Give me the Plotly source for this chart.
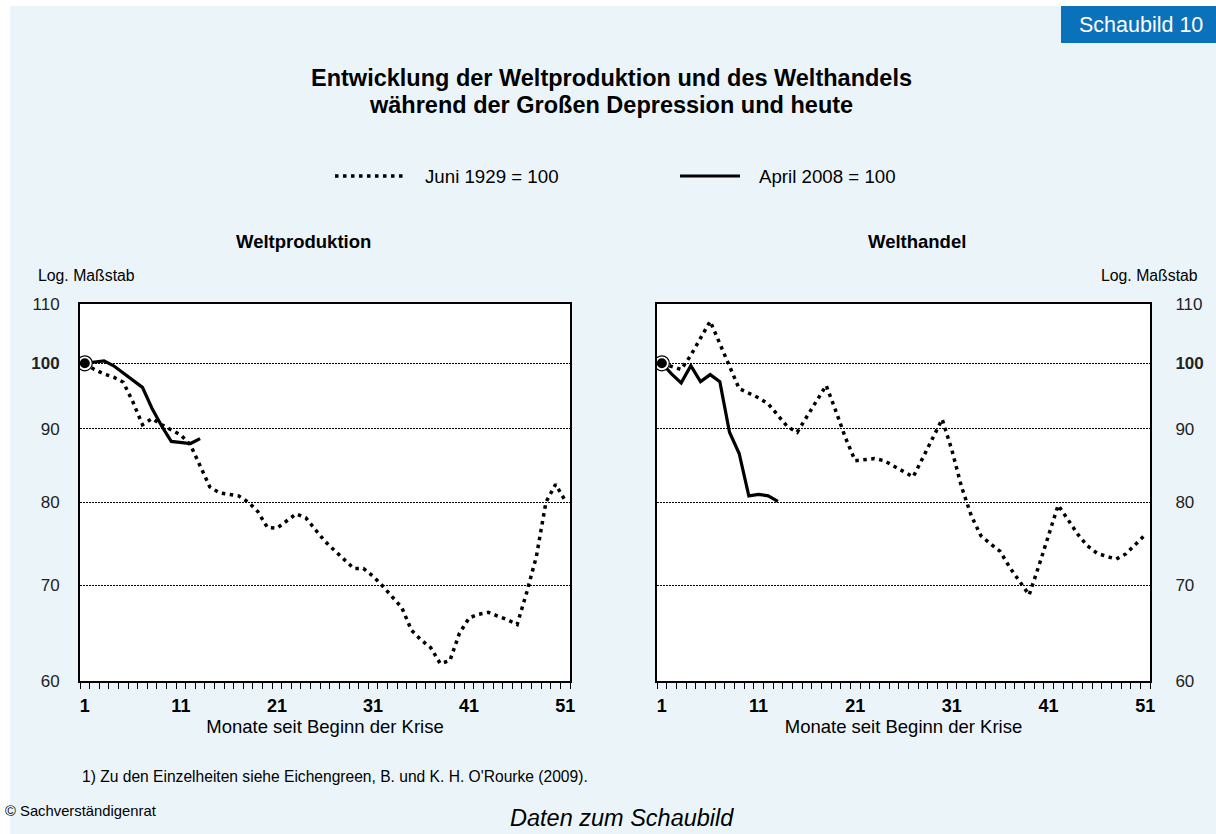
import math
import plotly.graph_objects as go

# ---------------- data ----------------
months = list(range(1, 52))
months_2008 = list(range(1, 14))

prod_1929 = [100, 99.0, 98.3, 97.8, 97.0, 94.0, 90.6, 91.5, 90.6, 89.8,
             89.1, 87.7, 84.8, 82.0, 81.2, 81.0, 80.8, 80.0, 78.8, 76.8,
             76.7, 77.6, 78.5, 78.0, 76.6, 75.1, 74.0, 73.0, 71.9, 71.9,
             71.0, 69.9, 68.7, 67.5, 65.1, 64.1, 63.3, 61.7, 62.0, 64.8,
             66.4, 66.8, 67.0, 66.6, 66.2, 65.7, 69.2, 73.3, 80.0, 82.3, 80.2]
prod_2008 = [100, 100.2, 100.4, 99.6, 98.5, 97.3, 96.2, 93.0, 90.4, 88.2,
             88.1, 87.9, 88.6]

trade_1929 = [100, 99.5, 99.0, 101.3, 104.0, 107.0, 103.2, 99.5, 96.0, 95.3,
              94.6, 93.7, 92.0, 90.3, 89.5, 91.8, 94.2, 96.5, 92.6, 88.7,
              85.5, 85.6, 85.8, 85.5, 84.8, 84.0, 83.3, 85.9, 88.6, 91.4,
              87.0, 82.0, 78.3, 75.8, 74.8, 73.9, 72.0, 70.4, 68.9, 72.2,
              75.9, 79.6, 77.8, 76.0, 74.6, 73.7, 73.3, 73.0, 73.6, 74.7, 75.9]
trade_2008 = [100, 98.3, 96.9, 99.6, 97.1, 98.2, 97.1, 89.5, 86.5, 80.8,
              81.0, 80.8, 80.1]

x_tickvals = [1, 11, 21, 31, 41, 51]
y_tickvals = [60, 70, 80, 90, 100, 110]
y_ticktext = ["60", "70", "80", "90", "<b>100</b>", "110"]
base_value = 100

series_1929_name = "Juni 1929 = 100"
series_2008_name = "April 2008 = 100"

# ---------------- layout helpers ----------------
W, H = 1216, 834
FONT = "Liberation Sans, Arial, sans-serif"
BG = "#EBF5F9"
BLUE = "#0A72BA"
DOT = "3.5px,4.5px"


def px(x):
    return x / W


def py(y):
    return 1 - y / H


fig = go.Figure()

panels = [
    ("x", "y", prod_1929, prod_2008),
    ("x2", "y2", trade_1929, trade_2008),
]
for xa, ya, s29, s08 in panels:
    fig.add_trace(go.Scatter(x=months, y=s29, mode="lines", xaxis=xa, yaxis=ya,
                             line=dict(color="black", width=3.5, dash=DOT),
                             name=series_1929_name, showlegend=False, hoverinfo="skip"))
    fig.add_trace(go.Scatter(x=months_2008, y=s08, mode="lines", xaxis=xa, yaxis=ya,
                             line=dict(color="black", width=3.2),
                             name=series_2008_name, showlegend=False, hoverinfo="skip"))
    # start-point bullseye marker
    fig.add_trace(go.Scatter(x=[months[0]], y=[s29[0]], mode="markers", xaxis=xa, yaxis=ya,
                             marker=dict(size=15, color="white",
                                         line=dict(color="black", width=1.2)),
                             showlegend=False, hoverinfo="skip"))
    fig.add_trace(go.Scatter(x=[months[0]], y=[s29[0]], mode="markers", xaxis=xa, yaxis=ya,
                             marker=dict(size=10, color="black"),
                             showlegend=False, hoverinfo="skip"))

ydom = [py(681), py(304)]
yrange = [math.log10(60), math.log10(110)]

common_x = dict(
    range=[0.5, 51.5], tickmode="array", tickvals=x_tickvals,
    ticks="", showgrid=False, zeroline=False, automargin=False,
    showline=True, mirror=True, linecolor="black", linewidth=2,
    tickfont=dict(family=FONT, size=18, color="black", weight="bold"),
    ticklabelstandoff=7,
    minor=dict(ticks="outside", ticklen=6, tickwidth=1, tickcolor="black",
               tick0=0.5, dtick=1, showgrid=False),
    title=dict(text="Monate seit Beginn der Krise",
               font=dict(family=FONT, size=18.5, color="black"), standoff=2),
    fixedrange=True,
)
common_y = dict(
    type="log", range=yrange, tickmode="array", tickvals=y_tickvals,
    ticktext=y_ticktext, ticks="", showgrid=True, gridcolor="black",
    gridwidth=1.3, griddash="2px,1px", zeroline=False, automargin=False,
    showline=True, mirror=True, linecolor="black", linewidth=2,
    tickfont=dict(family=FONT, size=17, color="#222222"),
    domain=ydom, fixedrange=True,
)

fig.update_layout(
    width=W, height=H,
    margin=dict(l=0, r=0, t=0, b=0, pad=0),
    paper_bgcolor=BG, plot_bgcolor="white",
    font=dict(family=FONT, color="black"),
    showlegend=False,
    xaxis=dict(common_x, domain=[px(80), px(570)], anchor="y"),
    yaxis=dict(common_y, anchor="x", side="left", ticklabelstandoff=15),
    xaxis2=dict(common_x, domain=[px(657), px(1150)], anchor="y2"),
    yaxis2=dict(common_y, anchor="x2", side="right", ticklabelstandoff=20),
)

shapes = [
    # white outer margins
    dict(type="rect", xref="paper", yref="paper", x0=0, x1=px(10), y0=0, y1=1,
         fillcolor="white", line=dict(width=0), layer="below"),
    dict(type="rect", xref="paper", yref="paper", x0=0, x1=1, y0=py(6), y1=1,
         fillcolor="white", line=dict(width=0), layer="below"),
    # badge
    dict(type="rect", xref="paper", yref="paper", x0=px(1061), x1=1, y0=py(43), y1=py(6),
         fillcolor=BLUE, line=dict(width=0)),
    # base (100) lines incl. outer tick
    dict(type="line", xref="paper", yref="y", x0=px(72), x1=px(570),
         y0=math.log10(base_value), y1=math.log10(base_value),
         line=dict(color="black", width=2.2)),
    dict(type="line", xref="paper", yref="y2", x0=px(657), x1=px(1158),
         y0=math.log10(base_value), y1=math.log10(base_value),
         line=dict(color="black", width=2.2)),
    # legend keys
    dict(type="line", xref="paper", yref="paper", x0=px(335), x1=px(404),
         y0=py(176), y1=py(176), line=dict(color="black", width=3.5, dash=DOT)),
    dict(type="line", xref="paper", yref="paper", x0=px(680), x1=px(740),
         y0=py(176), y1=py(176), line=dict(color="black", width=3.2)),
]
fig.update_layout(shapes=shapes)


def ann(text, x, y, size, xanchor="center", color="black", bold=False, italic=False):
    t = text
    if bold:
        t = "<b>" + t + "</b>"
    if italic:
        t = "<i>" + t + "</i>"
    return dict(text=t, x=px(x), y=py(y), xref="paper", yref="paper",
                xanchor=xanchor, yanchor="middle", showarrow=False,
                font=dict(family=FONT, size=size, color=color))


annotations = [
    ann("Schaubild 10", 1141, 25, 21.5, color="white"),
    ann("Entwicklung der Weltproduktion und des Welthandels", 611, 78, 23.5, bold=True),
    ann("während der Großen Depression und heute", 611, 105, 23.5, bold=True),
    ann(series_1929_name, 423, 176, 18.7, xanchor="left"),
    ann(series_2008_name, 757, 176, 18.7, xanchor="left"),
    ann("Weltproduktion", 303, 242, 18.5, bold=True),
    ann("Welthandel", 917, 242, 18.5, bold=True),
    ann("Log. Maßstab", 36, 276, 15.8, xanchor="left"),
    ann("Log. Maßstab", 1200, 276, 15.8, xanchor="right"),
    ann("1) Zu den Einzelheiten siehe Eichengreen, B. und K. H. O'Rourke (2009).", 80, 776, 15.6,
        xanchor="left"),
    ann("© Sachverständigenrat", 3, 811, 14.8, xanchor="left"),
    ann("Daten zum Schaubild", 622, 818, 23.5, italic=True),
]
fig.update_layout(annotations=annotations)

fig.write_html("out.html", config={"displayModeBar": False},
               post_script="document.body.style.margin='0';document.body.style.padding='0';")
